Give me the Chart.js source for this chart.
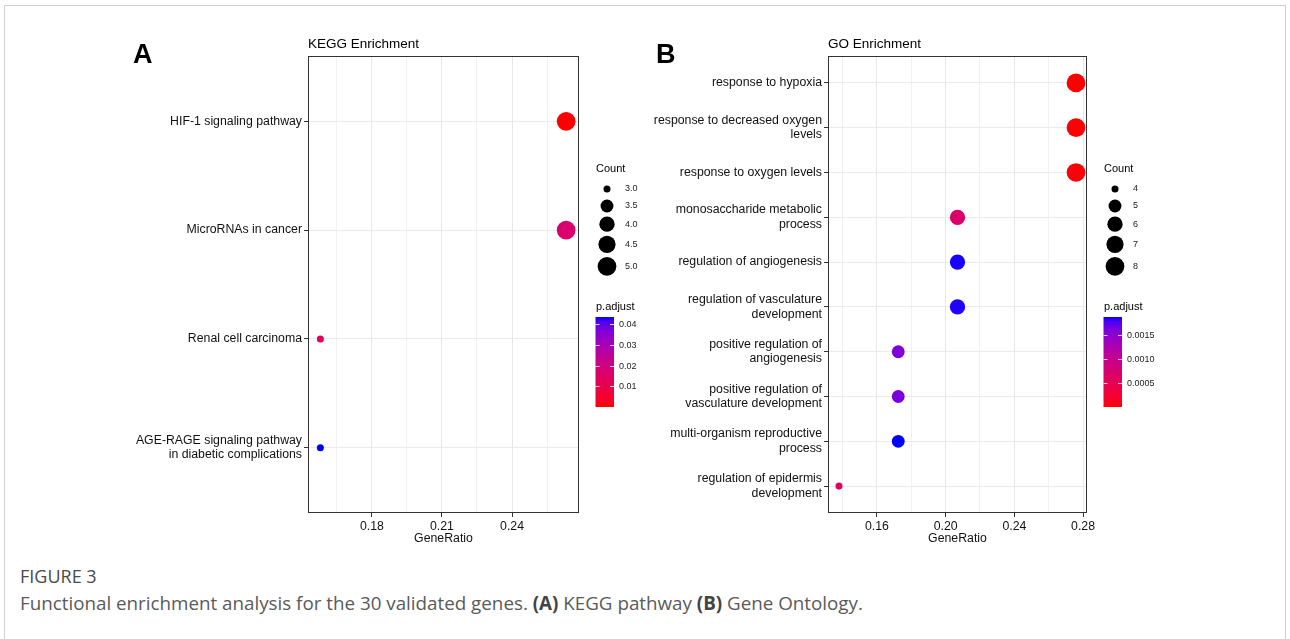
<!DOCTYPE html>
<html>
<head>
<meta charset="utf-8">
<script src="https://cdn.jsdelivr.net/npm/chart.js@4.4.1/dist/chart.umd.min.js"></script>
<style>
  html, body { margin: 0; padding: 0; background: #fff; }
  body { width: 1290px; height: 639px; position: relative; overflow: hidden; }
  .frame { position: absolute; left: 4px; top: 5px; width: 1280px; height: 700px; border: 1px solid #cfcfcf; }
  canvas { position: absolute; top: 0; }
  #keggChart { left: 0; }
  #goChart { left: 645px; }
  .fig-no { position: absolute; left: 20px; top: 564px; font: 18px "Open Sans", "Noto Sans", sans-serif; color: #4a4a4a; }
  .fig-cap { position: absolute; left: 20px; top: 590px; font: 18.8px "Open Sans", "Noto Sans", sans-serif; color: #5a5a5a; white-space: nowrap; }
  .fig-cap b { font-weight: 700; color: #444; }
</style>
</head>
<body>
<div class="frame"></div>
<canvas id="keggChart" width="645" height="560"></canvas>
<canvas id="goChart" width="645" height="560"></canvas>
<div class="fig-no">FIGURE 3</div>
<div class="fig-cap">Functional enrichment analysis for the 30 validated genes. <b>(A)</b> KEGG pathway <b>(B)</b> Gene Ontology.</div>

<script>
// =====================================================
// Data
// =====================================================

const keggTerms = [
    'HIF-1 signaling pathway',
    'MicroRNAs in cancer',
    'Renal cell carcinoma',
    'AGE-RAGE signaling pathway\nin diabetic complications'
];
const keggGeneRatio = [0.2632, 0.2632, 0.1579, 0.1579];
const keggCount = [5, 5, 3, 3];
const keggPAdjust = [0.0001, 0.0165, 0.014, 0.0434];
const keggXTicks = [0.18, 0.21, 0.24];
const keggXMinor = [0.165, 0.195, 0.225, 0.255];
const keggCountBreaks = [3.0, 3.5, 4.0, 4.5, 5.0];
const keggPBreaks = [0.01, 0.02, 0.03, 0.04];

const goTerms = [
    'response to hypoxia',
    'response to decreased oxygen\nlevels',
    'response to oxygen levels',
    'monosaccharide metabolic\nprocess',
    'regulation of angiogenesis',
    'regulation of vasculature\ndevelopment',
    'positive regulation of\nangiogenesis',
    'positive regulation of\nvasculature development',
    'multi-organism reproductive\nprocess',
    'regulation of epidermis\ndevelopment'
];
const goGeneRatio = [0.2759, 0.2759, 0.2759, 0.2069, 0.2069, 0.2069, 0.1724, 0.1724, 0.1724, 0.1379];
const goCount = [8, 8, 8, 6, 6, 6, 5, 5, 5, 4];
const goPAdjust = [0.00001, 0.00002, 0.00003, 0.0007, 0.00185, 0.00184, 0.00158, 0.0016, 0.00186, 0.00062];
const goXTicks = [0.16, 0.20, 0.24, 0.28];
const goXMinor = [0.14, 0.18, 0.22, 0.26];
const goCountBreaks = [4, 5, 6, 7, 8];
const goPBreaks = [0.0005, 0.0010, 0.0015];

const FONT = '"Liberation Sans", Arial, Helvetica, sans-serif';

// =====================================================
// Colour (red -> blue in Lab, like ggplot) and size scales
// =====================================================

function lin(c) { c /= 255; return c <= 0.04045 ? c / 12.92 : Math.pow((c + 0.055) / 1.055, 2.4); }

function rgbToLab(rgb) {
    const R = lin(rgb[0]), G = lin(rgb[1]), B = lin(rgb[2]);
    const X = (R * 0.4124 + G * 0.3576 + B * 0.1805) / 0.95047;
    const Y = R * 0.2126 + G * 0.7152 + B * 0.0722;
    const Z = (R * 0.0193 + G * 0.1192 + B * 0.9505) / 1.08883;
    const f = t => t > 0.008856 ? Math.cbrt(t) : (7.787 * t + 16 / 116);
    return [116 * f(Y) - 16, 500 * (f(X) - f(Y)), 200 * (f(Y) - f(Z))];
}

function labToRgb(lab) {
    const fy = (lab[0] + 16) / 116, fx = fy + lab[1] / 500, fz = fy - lab[2] / 200;
    const inv = t => t * t * t > 0.008856 ? t * t * t : (t - 16 / 116) / 7.787;
    const X = inv(fx) * 0.95047, Y = inv(fy), Z = inv(fz) * 1.08883;
    const R = 3.2406 * X - 1.5372 * Y - 0.4986 * Z;
    const G = -0.9689 * X + 1.8758 * Y + 0.0415 * Z;
    const B = 0.0557 * X - 0.2040 * Y + 1.0570 * Z;
    const g = c => {
        c = c <= 0.0031308 ? 12.92 * c : 1.055 * Math.pow(c, 1 / 2.4) - 0.055;
        return Math.round(Math.max(0, Math.min(1, c)) * 255);
    };
    return 'rgb(' + g(R) + ',' + g(G) + ',' + g(B) + ')';
}

const LAB_LOW = rgbToLab([255, 0, 0]);
const LAB_HIGH = rgbToLab([0, 0, 255]);

function gradColor(t) {
    t = Math.max(0, Math.min(1, t));
    return labToRgb(LAB_LOW.map((v, i) => v + (LAB_HIGH[i] - v) * t));
}

// point diameter follows clusterProfiler's scale_size(range = c(3, 8))
function countRadius(c, cMin, cMax) {
    const size = 3 + 5 * Math.sqrt((c - cMin) / (cMax - cMin));
    return size * 2.34 / 2;
}

// =====================================================
// Legends, titles and panel border
// =====================================================

const decorPlugin = {
    id: 'decor',
    afterDraw(chart, args, o) {
        const { ctx, chartArea: a } = chart;
        ctx.save();

        // panel border
        ctx.strokeStyle = '#333';
        ctx.lineWidth = 1;
        ctx.strokeRect(Math.round(a.left) + 0.5, Math.round(a.top) + 0.5,
            Math.round(a.right - a.left) - 1, Math.round(a.bottom - a.top) - 1);

        // panel letter and title
        ctx.fillStyle = '#000';
        ctx.textAlign = 'left';
        ctx.textBaseline = 'alphabetic';
        ctx.font = 'bold 27px ' + FONT;
        ctx.fillText(o.letter, o.letterX, 63);
        ctx.font = '13.5px ' + FONT;
        ctx.fillText(o.title, a.left, 48);

        const lx = a.right;

        // Count legend
        ctx.font = '11px ' + FONT;
        ctx.textBaseline = 'middle';
        ctx.fillStyle = '#000';
        ctx.fillText('Count', lx + 17, 169);
        let y = 189 - Math.max(17, countRadius(o.countBreaks[0], o.cMin, o.cMax) * 2 + 4) / 2;
        o.countBreaks.forEach(c => {
            const r = countRadius(c, o.cMin, o.cMax);
            const h = Math.max(17, r * 2 + 4);
            const cy = y + h / 2;
            ctx.beginPath();
            ctx.arc(lx + 28, cy, r, 0, Math.PI * 2);
            ctx.fillStyle = '#000';
            ctx.fill();
            ctx.font = '9px ' + FONT;
            ctx.fillStyle = '#222';
            ctx.fillText(o.countLabel(c), lx + 46, cy);
            y += h;
        });

        // p.adjust colour bar
        ctx.font = '11px ' + FONT;
        ctx.fillStyle = '#000';
        ctx.fillText('p.adjust', lx + 17, 307);
        const bx = lx + 16.5, bw = 18.5, top = 317, bottom = 407;
        const grad = ctx.createLinearGradient(0, bottom, 0, top);
        for (let i = 0; i <= 20; i++) grad.addColorStop(i / 20, gradColor(i / 20));
        ctx.fillStyle = grad;
        ctx.fillRect(bx, top, bw, bottom - top);
        ctx.font = '9px ' + FONT;
        o.pBreaks.forEach(p => {
            const ty = Math.round(bottom - (p - o.pMin) / (o.pMax - o.pMin) * (bottom - top)) + 0.5;
            ctx.strokeStyle = 'rgba(255,255,255,0.8)';
            ctx.beginPath();
            ctx.moveTo(bx, ty); ctx.lineTo(bx + 4, ty);
            ctx.moveTo(bx + bw - 4, ty); ctx.lineTo(bx + bw, ty);
            ctx.stroke();
            ctx.fillStyle = '#222';
            ctx.fillText(o.pLabel(p), lx + 40, ty);
        });

        ctx.restore();
    }
};

// =====================================================
// Dot plot builder
// =====================================================

function buildDotPlot(canvasId, cfg) {
    const cMin = Math.min(...cfg.counts), cMax = Math.max(...cfg.counts);
    const pMin = Math.min(...cfg.pAdjust), pMax = Math.max(...cfg.pAdjust);
    const points = cfg.terms.map((t, i) => ({
        x: cfg.ratio[i],
        y: i + 1,
        r: countRadius(cfg.counts[i], cMin, cMax)
    }));
    const colors = cfg.pAdjust.map(p => gradColor((p - pMin) / (pMax - pMin)));
    const isMajor = v => cfg.xTicks.some(t => Math.abs(t - v) < 1e-9);

    return new Chart(document.getElementById(canvasId), {
        type: 'bubble',
        data: {
            datasets: [{
                data: points,
                backgroundColor: colors,
                borderWidth: 0,
                hoverRadius: 0
            }]
        },
        options: {
            responsive: false,
            animation: false,
            events: [],
            layout: { padding: { left: 0, right: cfg.padRight, top: 56, bottom: 10 } },
            plugins: {
                legend: { display: false },
                tooltip: { enabled: false },
                decor: {
                    letter: cfg.letter,
                    letterX: cfg.letterX,
                    title: cfg.title,
                    countBreaks: cfg.countBreaks,
                    countLabel: cfg.countLabel,
                    cMin: cMin, cMax: cMax,
                    pBreaks: cfg.pBreaks,
                    pLabel: cfg.pLabel,
                    pMin: pMin, pMax: pMax
                }
            },
            scales: {
                x: {
                    type: 'linear',
                    min: cfg.xMin,
                    max: cfg.xMax,
                    afterBuildTicks: axis => {
                        axis.ticks = cfg.xTicks.concat(cfg.xMinor).sort((a, b) => a - b).map(v => ({ value: v }));
                    },
                    afterFit: axis => { axis.height = 37; },
                    ticks: {
                        autoSkip: false,
                        maxRotation: 0,
                        padding: 2,
                        color: '#111',
                        font: { family: FONT, size: 12.3 },
                        callback: v => isMajor(v) ? v.toFixed(2) : ''
                    },
                    grid: {
                        color: c => isMajor(c.tick.value) ? '#e6e6e6' : '#f1f1f1',
                        lineWidth: 1,
                        tickLength: 4,
                        tickColor: c => isMajor(c.tick.value) ? '#333' : 'rgba(0,0,0,0)'
                    },
                    border: { display: false },
                    title: {
                        display: true,
                        text: 'GeneRatio',
                        color: '#111',
                        padding: { top: 0, bottom: 4 },
                        font: { family: FONT, size: 12.3 }
                    }
                },
                y: {
                    type: 'linear',
                    reverse: true,
                    min: 0.4,
                    max: cfg.terms.length + 0.6,
                    afterBuildTicks: axis => {
                        axis.ticks = cfg.terms.map((t, i) => ({ value: i + 1 }));
                    },
                    afterFit: axis => { axis.width = cfg.yAxisWidth; },
                    ticks: {
                        autoSkip: false,
                        padding: 2,
                        color: '#111',
                        font: { family: FONT, size: 12.3 },
                        callback: v => cfg.terms[Math.round(v) - 1].split('\n')
                    },
                    grid: {
                        color: '#ebebeb',
                        lineWidth: 1,
                        tickLength: 4,
                        tickColor: '#333'
                    },
                    border: { display: false }
                }
            }
        },
        plugins: [decorPlugin]
    });
}

buildDotPlot('keggChart', {
    letter: 'A', letterX: 133, title: 'KEGG Enrichment',
    terms: keggTerms, ratio: keggGeneRatio, counts: keggCount, pAdjust: keggPAdjust,
    xMin: 0.1526, xMax: 0.2687, xTicks: keggXTicks, xMinor: keggXMinor,
    countBreaks: keggCountBreaks, countLabel: c => c.toFixed(1),
    pBreaks: keggPBreaks, pLabel: p => p.toFixed(2),
    yAxisWidth: 308, padRight: 66
});

buildDotPlot('goChart', {
    letter: 'B', letterX: 11, title: 'GO Enrichment',
    terms: goTerms, ratio: goGeneRatio, counts: goCount, pAdjust: goPAdjust,
    xMin: 0.1315, xMax: 0.2823, xTicks: goXTicks, xMinor: goXMinor,
    countBreaks: goCountBreaks, countLabel: c => String(c),
    pBreaks: goPBreaks, pLabel: p => p.toFixed(4),
    yAxisWidth: 183, padRight: 203
});
</script>
</body>
</html>
